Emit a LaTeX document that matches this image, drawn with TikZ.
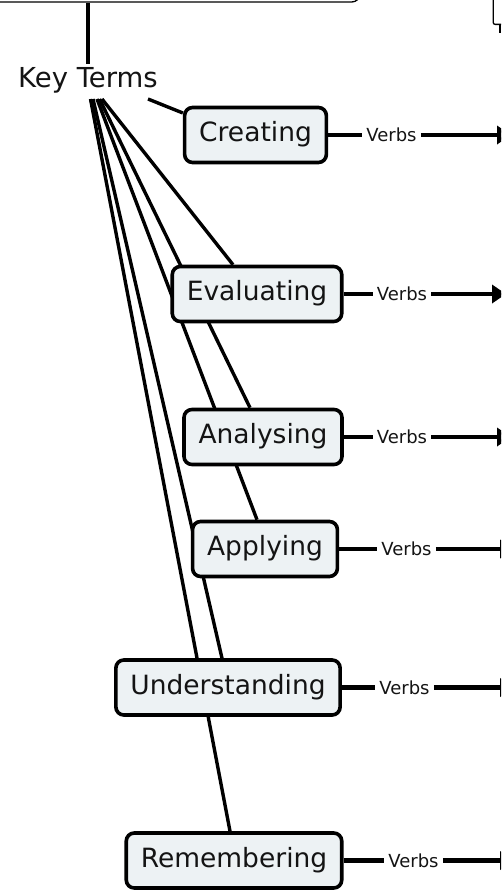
\documentclass[tikz,border=0pt]{standalone}
\usepackage{fontspec}
\setmainfont{DejaVu Sans}
\usetikzlibrary{arrows.meta,backgrounds}
\definecolor{boxfill}{HTML}{EDF2F4}
\definecolor{ink}{HTML}{141414}
\begin{document}
\begin{tikzpicture}[x=1pt,y=-1pt,
  concept/.style={draw=black, line width=3.6pt, fill=boxfill, rounded corners=8pt,
    font=\fontsize{26.5}{30}\selectfont, text=ink, inner xsep=14.5pt,
    minimum height=55pt, text height=19pt, text depth=5.5pt},
  frame/.style={draw=black, line width=1.3pt},
  link/.style={line width=3.4pt},
  verbslink/.style={line width=4.2pt},
  verbs/.style={font=\fontsize{18}{20}\selectfont, text=ink, inner xsep=4pt,
    inner ysep=0pt, text height=13pt, text depth=0pt},
  tip/.style={-{Triangle[length=14pt,width=18pt]}}
]
\useasboundingbox (0,0) rectangle (501,894);
\clip (0,0) rectangle (501,894);

% frames cut by the top edge
\node[frame, rounded corners=8pt, minimum width=400pt, minimum height=40pt,
      anchor=south east, inner sep=0pt] (top) at (360.6,2.6) {};
\node[frame, rounded corners=2pt, minimum width=30pt, minimum height=40pt,
      anchor=south west, inner sep=0pt] (tr) at (492.5,25) {};
\coordinate (trc) at (500,33);
\draw[frame] (tr.south -| trc) -- (trc);

% key terms
\node[font=\fontsize{27.5}{30}\selectfont, text=ink, anchor=base, inner sep=3pt] (kt) at (88,87.5) {Key Terms};
\draw[link] (kt.north |- top.south) -- (kt.north);

% concepts
\node[concept] (cre) at (255.5,135) {Creating};
\node[concept] (eva) at (257,294) {Evaluating};
\node[concept] (ana) at (263,437) {Analysing};
\node[concept] (app) at (265,549) {Applying};
\node[concept] (und) at (228,687.5) {Understanding};
\node[concept] (rem) at (234,860.5) {Remembering};

% fan of connectors from Key Terms (behind the boxes)
\coordinate (s0) at (148,99);
\coordinate (s1) at (102,99);
\coordinate (s2) at (99.5,99);
\coordinate (s3) at (97,99);
\coordinate (s4) at (93,99);
\coordinate (s5) at (90.5,99);
\begin{scope}[on background layer]
\draw[link] (s0) -- ([yshift=22pt]cre.west);
\draw[link] (s1) -- ([xshift=-24pt]eva.north);
\draw[link] (s2) -- ([xshift=-13pt]ana.north);
\draw[link] (s3) -- ([xshift=-8pt]app.north);
\draw[link] (s4) -- ([xshift=-6pt]und.north);
\draw[link] (s5) -- ([xshift=-4pt]rem.north);
\end{scope}

% verbs labels
\node[verbs] (v1) at (391.5,135) {Verbs};
\node[verbs] (v2) at (402,294) {Verbs};
\node[verbs] (v3) at (402,437) {Verbs};
\node[verbs] (v4) at (406.5,549) {Verbs};
\node[verbs] (v5) at (404.5,687.5) {Verbs};
\node[verbs] (v6) at (413.5,860.5) {Verbs};

\coordinate (e1) at (511,135);
\coordinate (e2) at (506,294);
\coordinate (e3) at (511,437);
\coordinate (e4) at (514,549);
\coordinate (e5) at (514,687.5);
\coordinate (e6) at (514,860.5);

\draw[verbslink] (cre.east) -- (v1.west);
\draw[verbslink] (eva.east) -- (v2.west);
\draw[verbslink] (ana.east) -- (v3.west);
\draw[verbslink] (app.east) -- (v4.west);
\draw[verbslink] (und.east) -- (v5.west);
\draw[verbslink] (rem.east) -- (v6.west);

\draw[verbslink, tip] (v1.east) -- (e1);
\draw[verbslink, tip] (v2.east) -- (e2);
\draw[verbslink, tip] (v3.east) -- (e3);
\draw[verbslink, tip] (v4.east) -- (e4);
\draw[verbslink, tip] (v5.east) -- (e5);
\draw[verbslink, tip] (v6.east) -- (e6);
\end{tikzpicture}
\end{document}
